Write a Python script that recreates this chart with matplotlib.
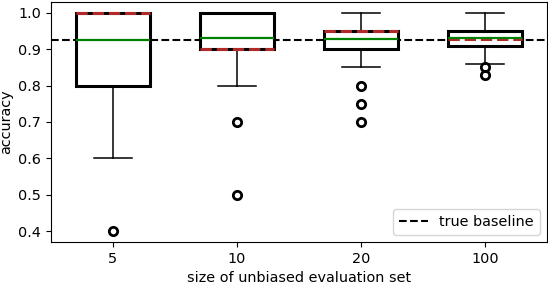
import matplotlib
matplotlib.use("Agg")
import matplotlib.pyplot as plt

plt.rcParams["font.size"] = 10.4

# size of unbiased evaluation set
labels = ["5", "10", "20", "100"]

# box statistics
q1 = [0.80, 0.90, 0.90, 0.91]
med = [0.925, 0.93, 0.928, 0.93]
q3 = [1.00, 1.00, 0.95, 0.95]
whislo = [0.60, 0.80, 0.85, 0.86]
whishi = [1.00, 1.00, 1.00, 1.00]
means = [1.00, 0.90, 0.95, 0.929]
fliers = [[0.40], [0.70, 0.50], [0.80, 0.75, 0.70], [0.85, 0.83]]

baseline = 0.925

stats = []
for i, lab in enumerate(labels):
    stats.append(dict(label=lab, q1=q1[i], med=med[i], q3=q3[i],
                      whislo=whislo[i], whishi=whishi[i],
                      mean=means[i], fliers=fliers[i]))

fig, ax = plt.subplots(figsize=(5.48, 2.86), dpi=100)
fig.subplots_adjust(left=0.093, right=0.998, top=0.993, bottom=0.154)

ax.axhline(baseline, color="black", linestyle="--", linewidth=1.5,
           label="true baseline", zorder=1)

ax.bxp(stats, widths=0.6, showmeans=True, meanline=True, patch_artist=True,
       boxprops=dict(facecolor="white", edgecolor="black", linewidth=2.2),
       whiskerprops=dict(color="black", linewidth=1.1),
       capprops=dict(color="black", linewidth=1.1),
       medianprops=dict(color="green", linewidth=1.6, zorder=3),
       meanprops=dict(color="#b02a2a", linestyle="--", linewidth=2.2, zorder=2.5),
       flierprops=dict(marker="o", markerfacecolor="none",
                       markeredgecolor="black", markersize=6,
                       markeredgewidth=2))

ax.set_xlabel("size of unbiased evaluation set")
ax.set_ylabel("accuracy")
ax.legend(loc="lower right")

plt.savefig("out.png", dpi=100)
